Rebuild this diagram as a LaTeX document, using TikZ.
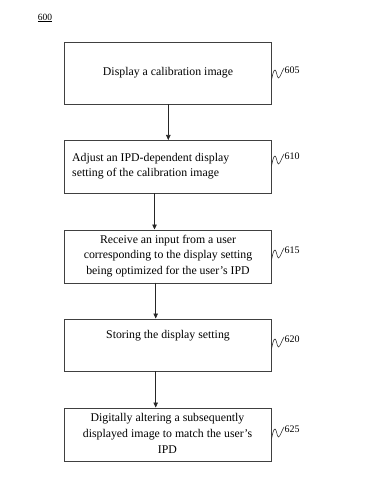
\documentclass[tikz,border=0pt]{standalone}
\usepackage{fontspec}
\setmainfont{Liberation Serif}
\usetikzlibrary{arrows.meta}
\begin{document}
\begin{tikzpicture}[x=1pt,y=-1pt,
  stepbox/.style={draw=black!75,line width=0.6pt,minimum width=207pt,inner sep=0pt,anchor=north west},
  steptext/.style={font=\fontsize{11.8}{15.6}\selectfont,inner sep=0pt},
  flow/.style={draw=black!85,line width=0.6pt,-{Triangle[length=5pt,width=4.5pt]}},
  refl/.style={font=\fontsize{10}{11}\selectfont,anchor=west,inner sep=0pt},
  squig/.style={draw=black!80,line width=0.6pt}]
\useasboundingbox (0,0) rectangle (376,478);
\node[font=\fontsize{9.5}{10}\selectfont,inner sep=0pt] (n600) at (45,18) {\underline{600}};

\node[stepbox,minimum height=62pt] (b1) at (64,42.5) {};
\node[steptext] (t1) at (168,72.5) {Display a calibration image};

\node[stepbox,minimum height=53pt] (b2) at (64,140) {};
\node[steptext,align=left,anchor=west] (t2) at (72,166) {Adjust an IPD-dependent display\\setting of the calibration image};

\node[stepbox,minimum height=53pt] (b3) at (64,229.5) {};
\node[steptext,align=center] (t3) at (168,256) {Receive an input from a user\\corresponding to the display setting\\being optimized for the user's IPD};

\node[stepbox,minimum height=52.5pt] (b4) at (64,318.5) {};
\node[steptext] (t4) at (168,336) {Storing the display setting};

\node[stepbox,minimum height=53pt] (b5) at (64,407.5) {};
\node[steptext,align=center] (t5) at (167.5,433.5) {Digitally altering a subsequently\\displayed image to match the user's\\IPD};

\coordinate (a1s) at (168.3,104.5);
\coordinate (a1e) at (168.3,140);
\coordinate (a2s) at (154.5,193);
\coordinate (a2e) at (154.5,229.5);
\coordinate (a3s) at (155.7,282.5);
\coordinate (a3e) at (155.7,318.5);
\coordinate (a4s) at (155.7,371);
\coordinate (a4e) at (155.7,407.5);
\draw[flow] (a1s) -- (a1e);
\draw[flow] (a2s) -- (a2e);
\draw[flow] (a3s) -- (a3e);
\draw[flow] (a4s) -- (a4e);

\foreach \nm/\yy/\lab in {l1/80/605, l2/166/610, l3/260/615, l4/349/620, l5/439/625}{
  \draw[squig] (271.5,\yy) .. controls (272.5,\yy-5) and (273.5,\yy-10) .. (275,\yy-10)
     .. controls (276.5,\yy-10) and (277,\yy-2) .. (278.5,\yy-2)
     .. controls (280,\yy-2) and (282,\yy-9) .. (284,\yy-12);
  \node[refl] (\nm) at (284.5,\yy-10) {\lab};
}
\end{tikzpicture}
\end{document}
